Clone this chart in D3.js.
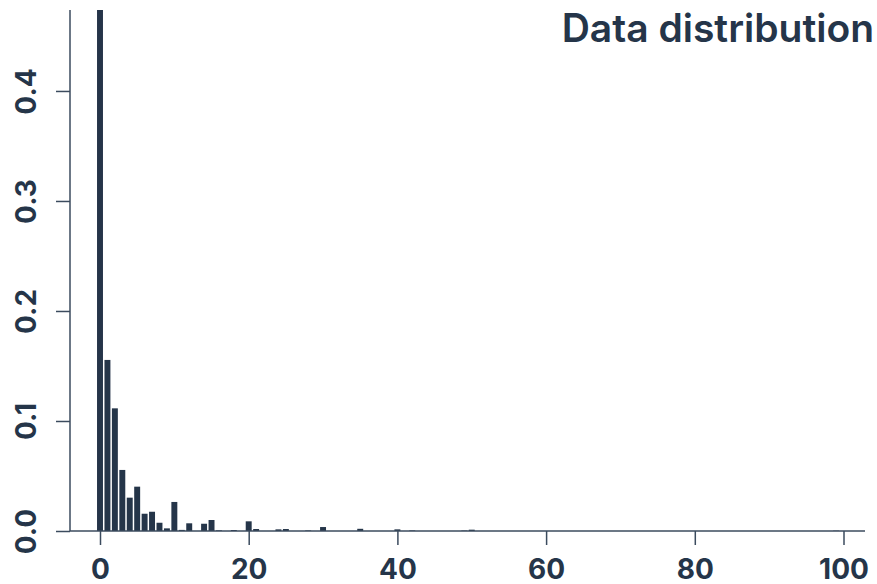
<!DOCTYPE html>
<html>
<head>
<meta charset="utf-8">
<script src="https://cdn.jsdelivr.net/npm/d3@7/dist/d3.min.js"></script>
<style>
  html, body { margin: 0; padding: 0; background: #ffffff; }
  svg { display: block; }
  text { font-family: Inter, "Noto Sans", sans-serif; }
</style>
</head>
<body>
<svg id="chart" width="877" height="584"></svg>
<script>
// Bin centers (integer values) and relative frequencies
const bins = [0, 1, 2, 3, 4, 5, 6, 7, 8, 9, 10, 11, 12, 14, 15, 16, 18, 20, 21, 24, 25, 28, 30, 35, 40, 42, 49, 50, 99];
const freqs = [0.48, 0.1555, 0.1115, 0.0555, 0.0303, 0.0403, 0.0157, 0.0175, 0.0075, 0.0024, 0.0264, 0.0010, 0.0070, 0.0066, 0.0100, 0.0006, 0.0009, 0.0088, 0.0018, 0.0015, 0.0018, 0.0005, 0.0036, 0.0020, 0.0015, 0.0005, 0.0004, 0.0012, 0.0003];
const xTicks = [0, 20, 40, 60, 80, 100];
const yTicks = [0.0, 0.1, 0.2, 0.3, 0.4];
const title = "Data distribution";

const ink = "#253549";
const axisColor = "#3b4b5e";

const svg = d3.select("#chart");
const x = d3.scaleLinear().domain([0, 100]).range([100, 843.5]);
const y = d3.scaleLinear().domain([0, 0.4736]).range([531, 10]);

const unit = x(1) - x(0);
const barW = unit * 0.8;

svg.append("defs").append("clipPath").attr("id", "plotclip")
  .append("rect").attr("x", 70).attr("y", 10).attr("width", 800).attr("height", 521);

svg.append("g").attr("clip-path", "url(#plotclip)")
  .selectAll("rect").data(bins.map((b, i) => ({ b, v: freqs[i] })))
  .join("rect")
  .attr("x", d => x(d.b) - barW / 2)
  .attr("width", barW)
  .attr("y", d => y(d.v))
  .attr("height", d => y(0) - y(d.v))
  .attr("fill", ink);

// X axis
const xAxis = d3.axisBottom(x).tickValues(xTicks).tickSize(14).tickPadding(10)
  .tickFormat(d3.format("d"));
const gx = svg.append("g").attr("transform", "translate(0,531)").call(xAxis);
gx.select(".domain").remove();
gx.append("line").attr("x1", 70).attr("x2", 865).attr("y1", 0).attr("y2", 0)
  .attr("stroke", axisColor).attr("stroke-width", 1.5);
gx.selectAll(".tick line").attr("stroke", axisColor).attr("stroke-width", 1.5);
gx.selectAll(".tick text")
  .attr("fill", ink).attr("font-size", 28).attr("font-weight", 700)
  .attr("font-family", "Inter, sans-serif")
  .attr("dy", null).attr("y", 47.5);

// Y axis
const yAxis = d3.axisLeft(y).tickValues(yTicks).tickSize(14).tickFormat(d3.format(".1f"));
const gy = svg.append("g").attr("transform", "translate(70,0)").call(yAxis);
gy.select(".domain").remove();
gy.append("line").attr("x1", 0).attr("x2", 0).attr("y1", 10).attr("y2", 531)
  .attr("stroke", axisColor).attr("stroke-width", 1.5);
gy.selectAll(".tick line").attr("stroke", axisColor).attr("stroke-width", 1.5);
gy.selectAll(".tick text")
  .attr("fill", ink).attr("font-size", 28).attr("font-weight", 700)
  .attr("font-family", "Inter, sans-serif")
  .attr("x", null).attr("dy", null)
  .attr("text-anchor", "middle")
  .attr("transform", "translate(-34,0) rotate(-90)");

// Title
svg.append("text")
  .attr("x", 874).attr("y", 42)
  .attr("text-anchor", "end")
  .attr("font-size", 39).attr("font-weight", 600)
  .attr("fill", ink)
  .text(title);
</script>
</body>
</html>
